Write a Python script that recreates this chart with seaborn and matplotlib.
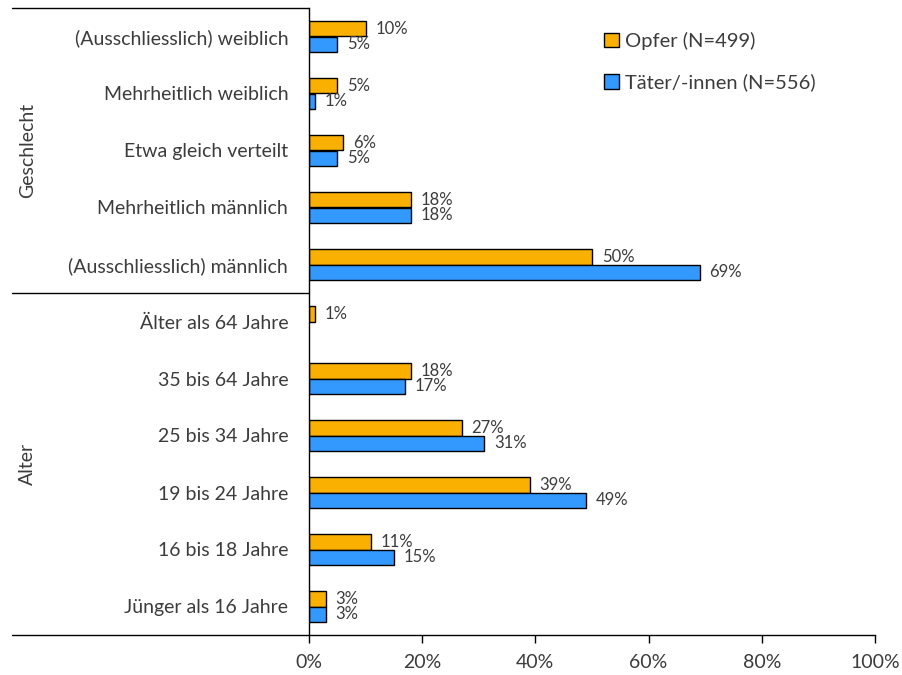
import numpy as np
import matplotlib
matplotlib.use("Agg")
import matplotlib.pyplot as plt
import pandas as pd
import seaborn as sns
from matplotlib.lines import Line2D

categories = [
    "(Ausschliesslich) weiblich", "Mehrheitlich weiblich", "Etwa gleich verteilt",
    "Mehrheitlich männlich", "(Ausschliesslich) männlich",
    "Älter als 64 Jahre", "35 bis 64 Jahre", "25 bis 34 Jahre",
    "19 bis 24 Jahre", "16 bis 18 Jahre", "Jünger als 16 Jahre",
]
opfer = [10, 5, 6, 18, 50, 1, 18, 27, 39, 11, 3]
taeter = [5, 1, 5, 18, 69, np.nan, 17, 31, 49, 15, 3]
series_names = ["Opfer (N=499)", "Täter/-innen (N=556)"]
group_names = ["Geschlecht", "Alter"]
group_sizes = [5, 6]
x_ticks = [0, 20, 40, 60, 80, 100]

TEXT = "#3c3c3c"
COLORS = {series_names[0]: "#F9B000", series_names[1]: "#3399FF"}

sns.set_theme(style="white")
plt.rcParams["font.family"] = ["Lato", "DejaVu Sans"]

df = pd.DataFrame({
    "Kategorie": categories * 2,
    "Anteil": opfer + taeter,
    "Gruppe": [series_names[0]] * len(categories) + [series_names[1]] * len(categories),
})

fig = plt.figure(figsize=(9.02, 6.75), dpi=100)
ax = fig.add_axes([309 / 902, 1 - 635 / 675, 566 / 902, 627 / 675])

sns.barplot(data=df, y="Kategorie", x="Anteil", hue="Gruppe", palette=COLORS,
            orient="h", width=0.56, edgecolor="black", linewidth=1.0,
            saturation=1, ax=ax, legend=True)

# value labels (skip missing bars)
for cont in ax.containers:
    for bar in cont:
        if bar is None or np.isnan(bar.get_width()):
            continue
        w = bar.get_width()
        yc = bar.get_y() + bar.get_height() / 2
        ax.annotate(f"{w:.0f}%", (w, yc), xytext=(7, 0), textcoords="offset points",
                    ha="left", va="center", fontsize=12, color=TEXT)

ax.set_xlim(0, 100)
ax.set_ylim(len(categories) - 0.5, -0.5)
ax.set_xticks(x_ticks)
ax.set_xticklabels([f"{t}%" for t in x_ticks])
ax.set_xlabel("")
ax.set_ylabel("")
ax.tick_params(axis="x", bottom=True, direction="out", length=6, width=1,
               color="black", labelsize=14, labelcolor=TEXT, pad=8)
ax.tick_params(axis="y", left=False, labelsize=14, labelcolor=TEXT, pad=9)

for s in ["top", "right"]:
    ax.spines[s].set_visible(False)
for s in ["left", "bottom"]:
    ax.spines[s].set_color("black")
    ax.spines[s].set_linewidth(1)

# group separator lines extending into the label area
x_left = (12 - 309) / 566
tr = ax.get_yaxis_transform()
bounds = np.cumsum([0] + group_sizes) - 0.5
for yb in bounds:
    ax.add_line(Line2D([x_left, 0], [yb, yb], transform=tr, color="black",
                       lw=1, clip_on=False))

# group titles
for name, lo, hi in zip(group_names, bounds[:-1], bounds[1:]):
    ax.text(-0.497, (lo + hi) / 2, name, transform=tr, rotation=90,
            ha="center", va="center", fontsize=14, color=TEXT)

leg = ax.legend(loc="upper left", bbox_to_anchor=(0.49, 0.99), frameon=False,
                fontsize=14.5, handlelength=0.7, handleheight=0.7,
                handletextpad=0.3, labelspacing=1.15)
for t in leg.get_texts():
    t.set_color(TEXT)

fig.savefig("out.png", dpi=100)
